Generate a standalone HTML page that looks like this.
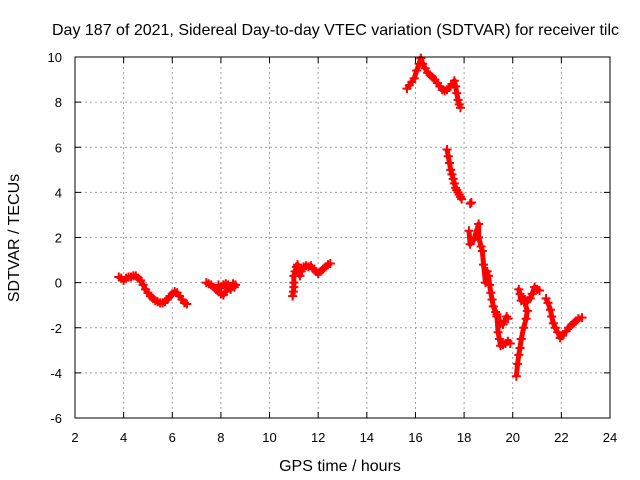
<!DOCTYPE html>
<html><head><meta charset="utf-8"><style>
body{margin:0;background:#fff;overflow:hidden}
svg{display:block;font-family:"Liberation Sans",sans-serif}
</style></head><body>
<svg id="chart" width="640" height="480"></svg>
<script>
const xTicks=[2,4,6,8,10,12,14,16,18,20,22,24];
const yTicks=[-6,-4,-2,0,2,4,6,8,10];
const seg1=[[3.8,0.25],[3.9,0.2],[4.0,0.1],[4.1,0.2],[4.2,0.25],[4.3,0.25],[4.4,0.3],[4.5,0.3],[4.6,0.2],[4.7,0.1],[4.8,-0.1],[4.9,-0.3],[5.0,-0.45],[5.1,-0.6],[5.2,-0.7],[5.3,-0.8],[5.4,-0.85],[5.5,-0.9],[5.6,-0.9],[5.7,-0.85],[5.8,-0.75],[5.9,-0.6],[6.0,-0.5],[6.1,-0.4],[6.2,-0.45],[6.3,-0.6],[6.4,-0.75],[6.5,-0.9],[6.6,-0.95]];
const seg2=[[7.4,0.0],[7.5,-0.05],[7.6,-0.1],[7.7,-0.2],[7.8,-0.3],[7.9,-0.4],[8.0,-0.5],[8.1,-0.55],[8.2,-0.4],[8.3,-0.2],[8.4,-0.3],[8.5,-0.1],[8.55,-0.2],[8.6,-0.1],[8.5,-0.05],[8.3,-0.1],[8.2,-0.05],[8.1,-0.1],[8.0,-0.2],[7.9,-0.1]];
const seg3=[[10.95,-0.6],[10.98,-0.4],[11.0,-0.2],[11.0,0.0],[11.0,0.3],[11.05,0.5],[11.1,0.7],[11.15,0.8],[11.2,0.6],[11.25,0.3],[11.3,0.5],[11.4,0.7],[11.5,0.75],[11.6,0.7],[11.7,0.75],[11.8,0.6],[11.9,0.5],[12.0,0.4],[12.1,0.5],[12.2,0.6],[12.3,0.7],[12.4,0.8],[12.5,0.85]];
const seg4=[[15.65,8.6],[15.75,8.75],[15.85,8.9],[15.95,9.05],[16.05,9.4],[16.15,9.7],[16.22,9.95],[16.3,9.7],[16.4,9.5],[16.5,9.3],[16.6,9.2],[16.7,9.1],[16.8,9.0],[16.9,8.85],[17.0,8.7],[17.1,8.55],[17.2,8.5],[17.3,8.55],[17.4,8.65],[17.5,8.8],[17.6,8.95],[17.65,8.7],[17.7,8.4],[17.75,8.1],[17.8,7.9],[17.85,7.75]];
const seg5=[[17.3,5.9],[17.35,5.6],[17.4,5.3],[17.45,5.0],[17.5,4.8],[17.55,4.6],[17.6,4.4],[17.65,4.2],[17.7,4.1],[17.75,4.0],[17.8,3.9],[17.85,3.8],[17.9,3.7]];
const seg5b=[[18.25,3.5],[18.3,3.55]];
const seg6=[[18.2,2.3],[18.25,1.7],[18.4,1.9],[18.6,2.6],[18.6,2.0],[18.7,1.6],[18.75,1.4],[18.8,0.8],[18.88,0.0],[18.95,0.5],[19.0,0.3],[19.05,-0.1],[19.1,-0.45],[19.15,-0.75],[19.2,-1.05],[19.3,-1.3],[19.35,-1.5],[19.4,-2.2],[19.45,-2.5],[19.5,-2.8],[19.6,-2.75],[19.7,-2.7],[19.8,-2.6],[19.9,-2.7]];
const seg6b=[[19.35,-1.4],[19.5,-1.8],[19.6,-1.85],[19.75,-1.5],[19.8,-1.6]];
const seg7=[[20.15,-4.15],[20.2,-3.6],[20.25,-3.2],[20.3,-2.9],[20.35,-2.5],[20.45,-2.0],[20.55,-1.6],[20.6,-1.25],[20.5,-0.9],[20.4,-0.7],[20.3,-0.5],[20.25,-0.3],[20.35,-0.8],[20.5,-0.75],[20.6,-0.8],[20.72,-0.7],[20.8,-0.5],[20.9,-0.2],[21.0,-0.3],[21.1,-0.35]];
const seg8=[[21.37,-0.7],[21.45,-0.9],[21.55,-1.2],[21.6,-1.5],[21.67,-1.8],[21.75,-2.0],[21.85,-2.2],[21.95,-2.45],[22.05,-2.35],[22.2,-2.15],[22.3,-2.0],[22.4,-1.9],[22.5,-1.8],[22.6,-1.7],[22.7,-1.6],[22.85,-1.55]];
const segments=[seg1,seg2,seg3,seg4,seg5,seg5b,seg6,seg6b,seg7,seg8];

const L=75,R=610,T=57,B=418;
const xS=v=>L+(v-2)/22*(R-L);
const yS=v=>B-(v+6)/16*(B-T);
const svg=document.getElementById('chart');
const NS='http://www.w3.org/2000/svg';
function mk(tag,at,parent){const e=document.createElementNS(NS,tag);for(const k in at)e.setAttribute(k,at[k]);(parent||svg).appendChild(e);return e;}

const grid=mk('g',{});


xTicks.forEach(t=>{if(t>2&&t<24)mk('line',{x1:xS(t),x2:xS(t),y1:T,y2:B,stroke:'#a0a0a0','stroke-dasharray':'2,3'},grid);});
yTicks.forEach(t=>{if(t>-6&&t<10)mk('line',{x1:L,x2:R,y1:yS(t),y2:yS(t),stroke:'#a0a0a0','stroke-dasharray':'2,3'},grid);});

const ticks=mk('g',{stroke:'#000'});


xTicks.forEach(t=>{
  mk('line',{x1:xS(t),x2:xS(t),y1:B,y2:B-6},ticks);mk('line',{x1:xS(t),x2:xS(t),y1:T,y2:T+6},ticks);
  const tx=mk('text',{x:xS(t),y:442,'text-anchor':'middle','font-size':13,stroke:'none',fill:'#000'});tx.textContent=t;
  
  
});
yTicks.forEach(t=>{
  mk('line',{x1:L,x2:L+6,y1:yS(t),y2:yS(t)},ticks);mk('line',{x1:R,x2:R-6,y1:yS(t),y2:yS(t)},ticks);
  const tx=mk('text',{x:62,y:yS(t)+5,'text-anchor':'end','font-size':13,stroke:'none',fill:'#000'});tx.textContent=t;
  
  
});

const data=mk('g',{stroke:'#ff0000',fill:'none'});


segments.forEach(s=>{
  const pl=mk('polyline',{points:s.map(p=>xS(p[0])+','+yS(p[1])).join(' '),'stroke-width':5,'stroke-linejoin':'round'},data);
  
  
  s.forEach(p=>{const x=xS(p[0]),y=yS(p[1]);
    const m=mk('path',{d:`M${x-4.5},${y}H${x+4.5}M${x},${y-4.5}V${y+4.5}`,'stroke-width':2},data);
    
    
  });
});

const frame=mk('rect',{x:L,y:T,width:R-L,height:B-T,fill:'none',stroke:'#000'});



const title=mk('text',{x:52,y:35,'font-size':16,fill:'#000'});
title.textContent='Day 187 of 2021, Sidereal Day-to-day VTEC variation (SDTVAR) for receiver tilc';


const xt=mk('text',{x:340,y:471,'text-anchor':'middle','font-size':16,fill:'#000'});
xt.textContent='GPS time / hours';


const yt=mk('text',{x:0,y:0,'text-anchor':'middle','font-size':16,fill:'#000',transform:'translate(19,238) rotate(-90)'});
yt.textContent='SDTVAR / TECUs';


</script>
</body></html>
